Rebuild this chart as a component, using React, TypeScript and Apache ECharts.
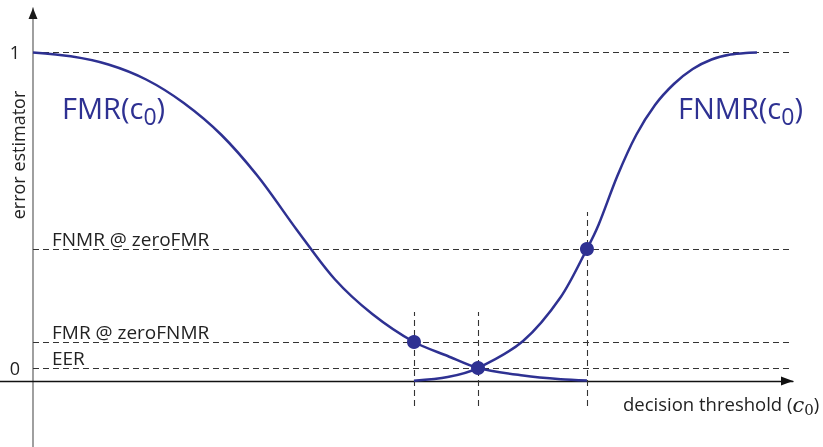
import React, { useEffect, useRef } from 'react';
import * as echarts from 'echarts';

// threshold values (x) and error levels (y)
const FMR_X = [0, 0.5, 1, 1.5, 2, 2.5, 3, 3.5, 4, 4.5, 5.053, 5.5, 5.902, 6.5, 7, 7.347];
const FMR_Y = [0.9985, 0.9869, 0.962, 0.9164, 0.845, 0.7477, 0.617, 0.459, 0.31, 0.2036, 0.1185, 0.076, 0.0395, 0.0167, 0.0052, 0.0015];
const FNMR_X = [5.053, 5.5, 5.902, 6.5, 7, 7.347, 7.5, 7.75, 8, 8.25, 8.5, 8.75, 9, 9.25, 9.5, 9.602];
const FNMR_Y = [0.0009, 0.0122, 0.0395, 0.1216, 0.2553, 0.4012, 0.4742, 0.6231, 0.7477, 0.8389, 0.9027, 0.9483, 0.9772, 0.9924, 0.9979, 0.9985];

const THRESHOLDS = { zeroFNMR: 5.053, eer: 5.902, zeroFMR: 7.347 };
const LEVELS = { one: 1, fnmrAtZeroFMR: 0.4012, fmrAtZeroFNMR: 0.1185, eer: 0.0395 };
const LEVEL_LABELS = ['FNMR @ zeroFMR', 'FMR @ zeroFNMR', 'EER'];
const TICK_VALUES = [LEVELS.eer, LEVELS.one];
const TICK_TEXT = ['0', '1'];

const X_MIN = -0.4377;
const X_MAX = 10.08;
const X_LINE_END = 10.079;
const Y_MIN = -0.2006;
const Y_MAX = 1.1337;

const BLUE = '#2e3192';
const FONT = 'Open Sans';

export default function App() {
  const ref = useRef<HTMLDivElement>(null);
  useEffect(() => {
    if (!ref.current) return;
    const chart = echarts.init(ref.current, null, { renderer: 'svg' });
    const fmr = FMR_X.map((x, i) => [x, FMR_Y[i]]);
    const fnmr = FNMR_X.map((x, i) => [x, FNMR_Y[i]]);
    const dash = { type: [6, 4] as any, color: '#333', width: 1.1 };
    const hLine = (y: number, text: string | null) => [
      {
        coord: [0, y],
        label: text
          ? {
              show: true,
              position: 'insideStartTop',
              formatter: text,
              color: '#222',
              fontSize: 19,
              fontFamily: FONT,
              distance: [19, 0.5],
            }
          : { show: false },
      },
      { coord: [X_LINE_END, y] },
    ];
    const vLine = (x: number, y0: number, y1: number) => [
      { coord: [x, y0], label: { show: false } },
      { coord: [x, y1] },
    ];
    const rich = (size: number, subSize: number, subPad: number, color: string) => ({
      a: { fontSize: size, verticalAlign: 'top', fill: color, fontFamily: FONT },
      s: { fontSize: subSize, verticalAlign: 'top', padding: [subPad, 0, 0, 0], fill: color, fontFamily: FONT },
    });
    const curve = (data: number[][]) => ({
      type: 'line',
      data,
      smooth: 0.3,
      showSymbol: false,
      clip: false,
      lineStyle: { color: BLUE, width: 2.5 },
      itemStyle: { color: BLUE },
      z: 3,
    });
    const yBase = {
      type: 'value',
      min: Y_MIN,
      max: Y_MAX,
      offset: -33,
      axisTick: { show: false },
      splitLine: { show: false },
    };
    const option: any = {
      animation: false,
      grid: { left: 0, right: 30, top: 8, bottom: 0, containLabel: false, outerBoundsMode: 'none' },
      xAxis: {
        type: 'value',
        min: X_MIN,
        max: X_MAX,
        axisLine: {
          show: true,
          onZero: true,
          symbol: ['none', 'triangle'],
          symbolSize: [9, 12],
          symbolOffset: [0, -6],
          lineStyle: { color: '#111', width: 1.3 },
        },
        axisTick: { show: false },
        axisLabel: { show: false },
        splitLine: { show: false },
      },
      yAxis: [
        {
          ...yBase,
          axisLine: {
            show: true,
            onZero: false,
            lineStyle: { color: '#888', width: 1.6 },
          },
          axisLabel: {
            show: true,
            customValues: TICK_VALUES,
            formatter: (v: number) => TICK_TEXT[TICK_VALUES.indexOf(v)] ?? '',
            color: '#222',
            fontSize: 18,
            fontFamily: FONT,
            margin: 13,
          },
        },
        {
          ...yBase,
          position: 'left',
          axisLine: {
            show: true,
            onZero: false,
            symbol: ['none', 'triangle'],
            symbolSize: [9, 11],
            symbolOffset: [0, -5.5],
            lineStyle: { color: '#1a1a1a', width: 0 },
          },
          axisLabel: { show: false },
        },
      ],
      series: [
        curve(fmr),
        curve(fnmr),
        {
          type: 'scatter',
          clip: false,
          data: [
            [THRESHOLDS.zeroFNMR, LEVELS.fmrAtZeroFNMR],
            [THRESHOLDS.eer, LEVELS.eer],
            [THRESHOLDS.zeroFMR, LEVELS.fnmrAtZeroFMR],
          ],
          symbolSize: 14,
          itemStyle: { color: BLUE, opacity: 1 },
          z: 4,
          markLine: {
            silent: true,
            symbol: ['none', 'none'],
            lineStyle: dash,
            z: 1,
            data: [
              hLine(LEVELS.one, null),
              hLine(LEVELS.fnmrAtZeroFMR, LEVEL_LABELS[0]),
              hLine(LEVELS.fmrAtZeroFNMR, LEVEL_LABELS[1]),
              hLine(LEVELS.eer, LEVEL_LABELS[2]),
              vLine(THRESHOLDS.zeroFNMR, -0.076, 0.2097),
              vLine(THRESHOLDS.eer, -0.076, 0.2097),
              vLine(THRESHOLDS.zeroFMR, -0.076, 0.5137),
            ],
          },
        },
      ],
      graphic: [
        {
          type: 'text',
          x: 18,
          y: 155,
          rotation: Math.PI / 2,
          style: {
            text: 'error estimator',
            align: 'center',
            verticalAlign: 'middle',
            fill: '#222',
            fontSize: 18,
            fontFamily: FONT,
          },
        },
        {
          type: 'text',
          x: 62,
          y: 93,
          style: {
            text: '{a|FMR(c}{s|0}{a|)}',
            align: 'left',
            verticalAlign: 'top',
            rich: rich(29, 23, 11, BLUE),
          },
        },
        {
          type: 'text',
          x: 678,
          y: 93,
          style: {
            text: '{a|FNMR(c}{s|0}{a|)}',
            align: 'left',
            verticalAlign: 'top',
            rich: rich(29, 23, 11, BLUE),
          },
        },
        {
          type: 'text',
          x: 623,
          y: 394,
          style: {
            text: '{a|decision threshold (}{c|c}{s|0}{a|)}',
            align: 'left',
            verticalAlign: 'top',
            rich: {
              a: { fontSize: 18.5, verticalAlign: 'top', fill: '#222', fontFamily: FONT },
              c: { fontSize: 21, verticalAlign: 'top', fill: '#222', fontFamily: 'DejaVu Serif', fontStyle: 'italic' },
              s: { fontSize: 15, verticalAlign: 'top', padding: [8, 0, 0, 0], fill: '#222', fontFamily: 'DejaVu Serif' },
            },
          },
        },
      ],
    };
    chart.setOption(option);
    return () => chart.dispose();
  }, []);
  return <div ref={ref} style={{ position: 'fixed', left: 0, top: 0, width: 823, height: 447 }} />;
}
